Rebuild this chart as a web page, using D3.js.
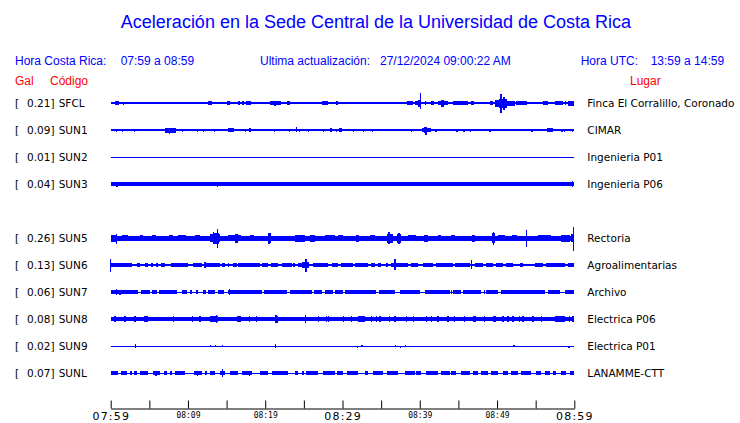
<!DOCTYPE html>
<html><head><meta charset="utf-8">
<script src="https://cdn.jsdelivr.net/npm/d3@7"></script>
<style>body{margin:0;background:#fff}svg{display:block}</style>
</head><body><svg id="c" width="740" height="423"></svg>
<script>
// ---------- data ----------
const titleText = "Aceleración en la Sede Central de la Universidad de Costa Rica";
const localRange = "07:59 a 08:59";
const utcRange = "13:59 a 14:59";
const updated = "27/12/2024 09:00:22 AM";
const codes  = ["SFCL","SUN1","SUN2","SUN3","SUN5","SUN6","SUN7","SUN8","SUN9","SUNL"];
const slots  = [0,1,2,3,5,6,7,8,9,10];
const pga    = ["0.21","0.09","0.01","0.04","0.26","0.13","0.06","0.08","0.02","0.07"];
const places = ["Finca El Corralillo, Coronado","CIMAR","Ingenieria P01","Ingenieria P06","Rectoria","Agroalimentarias","Archivo","Electrica P06","Electrica P01","LANAMME-CTT"];
const baseAmp = [0.7,0.6,0.5,1.6,2.5,0.6,0.5,1.8,0.5,0.5];
const tickTimes  = ["07:59","08:04","08:09","08:14","08:19","08:24","08:29","08:34","08:39","08:44","08:49","08:54","08:59"];
const labelTimes = ["07:59","08:09","08:19","08:29","08:39","08:49","08:59"];
const majorTimes = ["07:59","08:29","08:59"];
// blocks: [start min, end min, half amplitude]; spikes: [min, up, down]
const sfclBlocks = [[0.56,1.08,1.6],[12.54,13.15,1.6],[15.04,15.39,1.6],[16.5,16.7,1.6],[17.0,17.2,1.6],[17.5,18.1,1.6],[20.6,22.0,1.6],[22.76,23.19,1.6],[27.3,28.1,1.8],[29.2,29.4,1.6],[38.3,39.1,1.6],[39.4,39.8,2],[39.8,40.1,3.5],[40.65,40.86,1.6],[41.4,41.9,1.6],[42.4,43.7,2],[42.8,43.2,3.5],[44.3,46.3,1.6],[46.6,47.0,1.6],[49.05,49.5,2],[49.7,50.2,3.5],[50.2,51.3,4.5],[51.3,52.3,2.5],[52.5,53.9,1.6],[54.65,55.3,1.4],[55.95,56.6,1.6],[57.5,58.5,2],[58.75,58.97,1.6],[59.2,60,2.5]];
const sfclSpikes = [[1.64,1.5,1.5],[8.84,1.3,1.3],[12.03,1.3,1.3],[19.2,1.3,1.3],[21.25,1.6,3],[31.1,1.3,1.3],[35.9,1.3,1.3],[37.2,1.3,1.3],[40.1,10,6],[50.5,9,10],[50.9,6,7]];
const sun1Blocks = [[7.0,8.4,2.5],[13.75,14.0,1.4],[15.2,15.9,1.6],[17.9,18.15,1.6],[19.9,20.2,1.4],[28.4,28.7,1.6],[29.5,29.9,1.6],[33.2,33.4,1.4],[34.6,35.0,1.4],[35.3,35.7,1.4],[36.9,37.6,1.4],[40.3,41.5,2],[40.6,41.0,3],[42.6,42.8,1.4],[56.5,57.2,1.6]];
const sun1Spikes = [[0.78,1.5,1.5],[1.5,1.5,1.5],[3.1,1.5,1.5],[7.6,2.5,3.5],[9.3,1.5,1.5],[11.2,1.5,1.5],[12.0,1.5,1.5],[13.4,1.5,1.5],[17.4,1.5,1.5],[21.2,1.5,1.5],[23.1,1.5,1.5],[24.0,3,1.5],[24.4,1.5,1.5],[25.6,1.5,1.5],[27.5,1.5,1.5],[29.2,1.5,1.5],[31.4,1.5,1.5],[32.7,1.5,1.5],[33.9,1.5,1.5],[38.9,1.5,1.5],[40.8,3.3,4.5],[42.1,1.5,1.5],[44.8,1.5,1.5],[45.7,1.5,1.5],[46.55,1.5,1.5],[49.1,1.5,1.5],[54.5,1.5,1.5],[58.4,1.5,1.5],[58.75,1.5,1.5],[59.8,1.5,1.5]];
const sun2Blocks = [];
const sun2Spikes = [[13.8,0.5,1.2]];
const sun3Blocks = [];
const sun3Spikes = [[0.8,2.5,2.5],[13.8,2.5,2.5],[37.4,2.3,1.6],[59.8,2.8,2.8]];
const sun5Blocks = [[0,0.78,3.5],[1.4,2.3,3.2],[3.8,4.2,3.2],[5.3,5.8,3],[7.5,8.1,3.2],[8.75,9.8,3],[10.9,11.55,3],[12.85,14.15,4],[13.2,14.0,5.5],[15.2,16.9,3.4],[16.1,16.5,4.5],[18.0,18.5,3],[20.3,20.7,5],[23.8,25.1,3.5],[25.8,26.4,3.5],[27.7,29.0,3.2],[29.4,30.1,3.2],[31.8,32.2,3.5],[33.5,34.2,3],[35.7,36.6,4.5],[35.9,36.2,6],[37.0,37.6,4.5],[38.5,39.5,3],[40.6,41.1,3.5],[42.4,42.8,3.2],[44.0,44.6,3],[46.7,47.1,3.5],[49.3,49.7,5],[50.1,51.0,3.2],[52.0,52.6,3],[55.3,57.0,3.2],[58.3,59.4,3.5],[59.6,60,4]];
const sun5Spikes = [[0.78,4.5,5.5],[13.3,6.5,6],[13.8,9,9.5],[20.5,5.5,5.5],[36.0,6,6],[37.3,5.5,6],[49.5,6,6.5],[53.8,7.7,9],[59.9,11,13]];
const sun6Blocks = [[0.04,2.7,1.7],[3.36,3.79,1.7],[4.44,4.87,1.7],[5.22,5.52,1.7],[5.82,6.16,1.7],[6.51,7.03,1.7],[7.8,10.04,1.7],[10.69,11.77,1.7],[12.11,14.14,1.7],[14.35,14.78,1.7],[15.13,15.3,1.7],[15.86,16.29,1.7],[16.51,19.31,1.7],[19.53,20.39,1.7],[20.73,21.68,1.7],[22.11,23.41,1.7],[23.62,23.84,1.7],[24.18,24.7,1.7],[24.7,25.65,2.7],[26.21,28.15,1.7],[28.58,29.44,1.7],[29.78,31.38,1.7],[31.59,33.32,1.7],[33.75,34.18,1.7],[34.61,35.04,1.7],[35.69,35.91,1.7],[36.34,38.49,1.7],[38.84,39.78,1.7],[40.43,41.72,1.7],[42.16,44.31,1.7],[44.53,46.47,1.7],[47.11,48.19,1.7],[48.62,49.48,1.7],[49.91,50.78,1.7],[51.21,52.07,1.7],[52.93,53.36,1.7],[54.87,55.95,1.7],[56.38,58.75,1.7],[59.18,59.96,1.7]];
const sun6Spikes = [[0.0,6,6.7],[12.2,3,3],[25.26,5.7,6.7],[36.77,6,5.3],[46.68,5.3,4]];
const sun7Blocks = [[0.04,3.58,1.7],[3.92,5.09,1.7],[5.3,5.95,1.7],[6.25,8.53,1.7],[9.18,9.83,1.7],[10.26,10.56,1.7],[10.99,11.34,1.7],[11.98,12.28,1.7],[12.63,13.49,1.7],[13.92,14.7,1.7],[15.22,19.53,1.7],[19.87,22.76,1.7],[23.19,25.99,1.7],[26.34,27.37,1.7],[27.72,28.79,1.7],[29.09,30.09,1.7],[30.3,34.4,1.7],[34.7,36.77,1.7],[37.41,40.0,1.7],[40.65,43.88,1.7],[44.31,45.39,1.7],[45.82,47.97,1.7],[48.62,50.13,1.7],[50.56,56.16,1.7],[56.59,58.1,1.7],[58.75,59.96,1.7]];
const sun7Spikes = [[0.7,3,3],[1.2,2.5,2.5],[15.4,2.7,2.7],[44.1,2.2,2.2],[45.7,2.3,2.3],[48.4,2.3,2.3]];
const sun8Blocks = [[4.35,4.87,2.6],[12.85,13.92,2.6],[16.3,16.9,2.6],[21.25,21.68,3.5],[25.13,25.34,3.5],[32.03,32.89,2.6],[46.9,47.33,2.6],[49.48,49.91,2.6],[57.46,58.75,2.6]];
const sun8Spikes = [[0.56,3,3],[1.85,3,3],[3.15,3,3],[8.1,3,3],[10.56,3,3],[11.55,3,3],[13.7,4.3,4.3],[18.0,3,3],[18.9,3,3],[21.4,4,4],[25.2,4,4],[26.85,3,3],[27.93,3,3],[28.15,3,3],[30.09,3,3],[31.16,3,3],[33.75,3,3],[34.4,3,3],[34.83,3,3],[36.12,3,3],[36.77,3,3],[38.28,3,3],[39.14,3,3],[40.86,3,3],[41.51,3,3],[42.37,3,3],[43.66,3,3],[44.53,3,3],[45.82,3,3],[48.4,3,3],[50.78,3,3],[51.42,3,3],[52.07,3,3],[52.93,3,3],[53.36,3,3],[54.66,3,3],[55.73,3,3],[59.4,3,3],[59.83,3,3]];
const sun9Blocks = [[3.13,3.33,1.7]];
const sun9Spikes = [[12.9,1.5,0.5],[13.6,1.5,0.5],[14.44,1.3,0.5],[21.3,1.8,1.8],[31.9,0.5,1.5],[32.5,1.3,0.5],[36.85,1.3,0.5],[37.46,0.5,1.5],[38.15,1.3,0.5],[52.2,1.3,0.5],[59.3,0.5,1.5]];
const sunlBlocks = [[0,0.99,1.7],[1.34,2.07,1.7],[2.5,2.72,1.7],[3.06,3.36,1.7],[3.79,4.78,1.7],[5.52,6.38,1.7],[6.94,7.24,1.7],[7.67,7.89,1.7],[8.32,9.61,1.7],[10.82,11.77,1.7],[12.2,12.41,1.7],[12.84,13.49,1.7],[14.14,14.78,1.7],[15.43,16.51,1.7],[16.94,18.23,1.7],[19.31,20.39,1.7],[20.82,22.89,1.7],[23.84,24.27,1.7],[24.7,25.04,1.7],[25.26,26.85,1.7],[27.5,29.0,1.7],[29.35,30.09,1.7],[30.52,32.03,1.7],[32.89,33.32,1.7],[33.97,35.26,1.7],[35.82,37.2,1.7],[38.06,39.35,1.7],[39.57,40.22,1.7],[40.86,42.37,1.7],[42.8,43.88,1.7],[44.1,44.74,1.7],[45.39,46.47,1.7],[46.9,47.54,1.7],[47.97,48.84,1.7],[49.27,50.13,1.7],[50.78,51.42,1.7],[51.85,52.72,1.7],[53.15,54.44,1.7],[55.09,55.73,1.7],[56.16,56.81,1.7],[57.24,57.67,1.7],[58.32,58.97,1.7],[59.4,59.96,1.7]];
const sunlSpikes = [[5.86,2.5,2.5],[11.25,2.5,2.5],[14.44,3.7,3.7],[18.0,2.5,2.5],[22.54,2.2,2.2],[29.44,2.3,2.3],[48.4,2.3,2.3]];
const allBlocks = [sfclBlocks,sun1Blocks,sun2Blocks,sun3Blocks,sun5Blocks,sun6Blocks,sun7Blocks,sun8Blocks,sun9Blocks,sunlBlocks];
const allSpikes = [sfclSpikes,sun1Spikes,sun2Spikes,sun3Spikes,sun5Spikes,sun6Spikes,sun7Spikes,sun8Spikes,sun9Spikes,sunlSpikes];

// ---------- drawing ----------
const svg = d3.select("#c");
const BLUE = "#0000ff", RED = "#ff0000";
const parseT = d3.timeParse("%Y-%m-%d %H:%M");
const tDate = s => parseT("2024-12-27 " + s);
const t0 = tDate("07:59");
const atMin = m => new Date(t0.getTime() + m * 60000);
const x = d3.scaleTime().domain([tDate("07:59"), tDate("08:59")]).range([110.7, 574.3]);
const y = d3.scaleLinear().domain([0, 10]).range([103, 373]);
const amp = d3.scaleLinear().domain([-13.5, 13.5]).range([13.5, -13.5]);

svg.append("text").attr("x", 376).attr("y", 28).attr("text-anchor", "middle")
  .attr("font-family", "Liberation Sans, Arial, sans-serif").attr("font-size", 18)
  .attr("fill", BLUE).text(titleText);

const hdr = [["Hora Costa Rica:", 15, BLUE], [localRange, 120.7, BLUE], ["Ultima actualización:", 260, BLUE], [updated, 380, BLUE], ["Hora UTC:", 580.7, BLUE], [utcRange, 650.7, BLUE]];
svg.selectAll("text.hdr").data(hdr).join("text").attr("class", "hdr")
  .attr("x", d => d[1]).attr("y", 65).attr("fill", d => d[2])
  .attr("font-family", "Liberation Sans, Arial, sans-serif").attr("font-size", 12).text(d => d[0]);
const sub = [["Gal", 15], ["Código", 50], ["Lugar", 630]];
svg.selectAll("text.sub").data(sub).join("text").attr("class", "sub")
  .attr("x", d => d[1]).attr("y", 85).attr("fill", RED)
  .attr("font-family", "Liberation Sans, Arial, sans-serif").attr("font-size", 12).text(d => d[0]);

const rows = svg.selectAll("g.row").data(codes.map((c, i) => ({c, i}))).join("g")
  .attr("class", "row").attr("transform", d => `translate(0,${y(slots[d.i])})`);
const lblFont = "DejaVu Sans, sans-serif";
rows.append("text").attr("x", 15).attr("y", 4).attr("font-family", lblFont).attr("font-size", 10.5).text("[");
rows.append("text").attr("x", 54.5).attr("y", 4).attr("text-anchor", "end").attr("font-family", lblFont).attr("font-size", 10.5).text(d => pga[d.i] + "]");
rows.append("text").attr("x", 58.7).attr("y", 4).attr("font-family", lblFont).attr("font-size", 10.5).text(d => d.c);
rows.append("text").attr("x", 587.3).attr("y", 4).attr("font-family", lblFont).attr("font-size", 10.5).text(d => places[d.i]);

const tr = rows.append("g").attr("fill", BLUE).attr("shape-rendering", "crispEdges");
tr.append("rect")
  .attr("x", x.range()[0]).attr("width", x.range()[1] - x.range()[0])
  .attr("y", d => amp(baseAmp[d.i])).attr("height", d => amp(-baseAmp[d.i]) - amp(baseAmp[d.i]));
tr.selectAll("rect.blk").data(d => allBlocks[d.i]).join("rect").attr("class", "blk")
  .attr("x", b => x(atMin(b[0]))).attr("width", b => Math.max(1, x(atMin(b[1])) - x(atMin(b[0]))))
  .attr("y", b => amp(b[2])).attr("height", b => amp(-b[2]) - amp(b[2]));
tr.selectAll("rect.spk").data(d => allSpikes[d.i]).join("rect").attr("class", "spk")
  .attr("x", s => x(atMin(s[0])) - 0.6).attr("width", 1.3)
  .attr("y", s => amp(s[1])).attr("height", s => amp(-s[2]) - amp(s[1]));

// axis
const ax = svg.append("g").attr("transform", "translate(0,408.5)")
  .call(d3.axisBottom(x).tickValues(tickTimes.map(tDate)).tickSize(-8).tickSizeOuter(0).tickFormat(""));
ax.select(".domain").attr("stroke", "#000");
ax.selectAll(".tick line").attr("stroke", "#000");
svg.selectAll("text.tl").data(labelTimes).join("text").attr("class", "tl")
  .attr("x", d => x(tDate(d)) + (majorTimes.includes(d) ? 0.6 : 0.5))
  .attr("y", d => majorTimes.includes(d) ? 419.5 : 417.5)
  .attr("text-anchor", "middle")
  .attr("font-family", d => majorTimes.includes(d) ? "DejaVu Sans, sans-serif" : "DejaVu Sans Mono, monospace")
  .attr("font-size", d => majorTimes.includes(d) ? 11 : 8)
  .attr("letter-spacing", d => majorTimes.includes(d) ? 1.2 : 0)
  .attr("fill", "#000").text(d => d);
</script></body></html>
